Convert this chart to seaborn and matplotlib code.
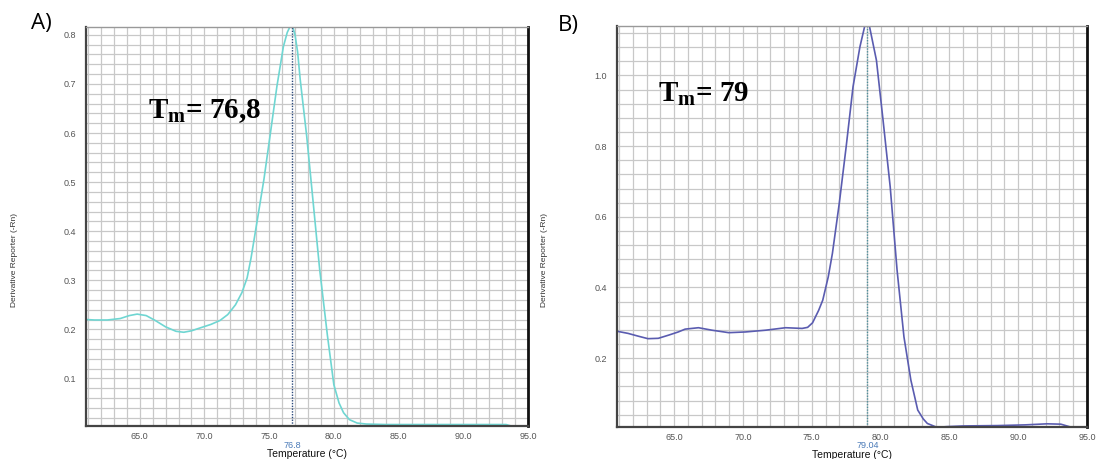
import numpy as np
import pandas as pd
import seaborn as sns
import matplotlib.pyplot as plt
from matplotlib.ticker import MultipleLocator

# Data
temp_a = [60.85, 61.5, 62.5, 63.5, 64.2, 64.8, 65.5, 66.2, 67.0, 67.8, 68.4, 69.0,
          69.8, 70.5, 71.2, 71.8, 72.4, 72.9, 73.3, 73.6, 74.1, 74.6, 75.1, 75.6,
          76.1, 76.4, 76.6, 76.8, 77.0, 77.2, 77.4, 77.9, 78.4, 78.9, 79.5, 80.0,
          80.4, 80.75, 81.2, 81.8, 82.5, 84.0, 86.0, 88.0, 90.0, 92.0, 93.3, 93.7]
deriv_a = [0.220, 0.219, 0.219, 0.222, 0.228, 0.231, 0.228, 0.218, 0.205, 0.196, 0.194, 0.197,
           0.204, 0.210, 0.218, 0.230, 0.250, 0.275, 0.305, 0.345, 0.425, 0.506, 0.600, 0.695,
           0.776, 0.805, 0.816, 0.818, 0.800, 0.765, 0.709, 0.594, 0.459, 0.323, 0.188, 0.087,
           0.050, 0.030, 0.016, 0.009, 0.007, 0.006, 0.006, 0.006, 0.006, 0.006, 0.006, 0.003]

temp_b = [60.85, 61.65, 62.4, 63.1, 63.85, 64.6, 65.3, 65.8, 66.77, 67.75, 68.97, 70.18,
          71.65, 73.1, 74.3, 74.7, 75.06, 75.5, 75.8, 76.2, 76.5, 77.0, 77.5, 78.0,
          78.5, 78.84, 79.04, 79.2, 79.7, 80.18, 80.7, 81.2, 81.7, 82.2, 82.7, 83.1,
          83.4, 84.1, 84.8, 86.0, 88.5, 90.5, 92.1, 93.1, 93.8]
deriv_b = [0.276, 0.270, 0.262, 0.255, 0.256, 0.265, 0.274, 0.282, 0.286, 0.279, 0.272, 0.274,
           0.279, 0.286, 0.284, 0.287, 0.300, 0.335, 0.364, 0.430, 0.496, 0.638, 0.798, 0.968,
           1.081, 1.138, 1.150, 1.138, 1.043, 0.874, 0.685, 0.449, 0.260, 0.138, 0.053, 0.028,
           0.015, 0.004, 0.006, 0.008, 0.009, 0.011, 0.014, 0.013, 0.005]

tm_a = 76.8
tm_b = 79.04
x_ticks = [65.0, 70.0, 75.0, 80.0, 85.0, 90.0, 95.0]
y_ticks_a = [0.1, 0.2, 0.3, 0.4, 0.5, 0.6, 0.7, 0.8]
y_ticks_b = [0.2, 0.4, 0.6, 0.8, 1.0]

sns.set_style("white")
plt.rcParams['font.family'] = ['Liberation Sans', 'DejaVu Sans']

W, H = 1097, 459
fig = plt.figure(figsize=(W / 100, H / 100), dpi=100)


def px(x, y):
    return x / W, 1 - y / H


def panel(rect, temps, vals, color, tm, tm_color, ylim, yticks, yminor):
    ax = fig.add_axes(rect)
    df = pd.DataFrame({"Temperature": temps, "Deriv": vals})
    sns.lineplot(data=df, x="Temperature", y="Deriv", ax=ax, color=color, lw=1.2)
    ax.set_xlim(60.85, 95.0)
    ax.set_ylim(*ylim)
    ax.xaxis.set_major_locator(plt.FixedLocator(x_ticks))
    ax.xaxis.set_minor_locator(MultipleLocator(1.0))
    ax.yaxis.set_major_locator(plt.FixedLocator(yticks))
    ax.yaxis.set_minor_locator(MultipleLocator(yminor))
    ax.set_xticklabels([f"{t:.1f}" for t in x_ticks])
    ax.set_yticklabels([f"{t:.1f}" for t in yticks])
    ax.grid(which="both", color="#c8c8c8", lw=0.9)
    ax.set_axisbelow(True)
    ax.tick_params(which="both", direction="out", length=3, width=0.8, color="#888888",
                   labelsize=6.5, labelcolor="#555555")
    ax.tick_params(axis="x", pad=1.5)
    ax.tick_params(axis="y", pad=4)
    ax.set_xlabel("")
    ax.set_ylabel("")
    ax.axvline(tm, color=tm_color, lw=1.0, ls=(0, (1, 1)))
    for s in ["left", "bottom"]:
        ax.spines[s].set_color("#444444")
        ax.spines[s].set_linewidth(1.6)
    ax.spines["top"].set_color("#999999")
    ax.spines["top"].set_linewidth(1.0)
    ax.spines["right"].set_color("#111111")
    ax.spines["right"].set_linewidth(2.0)
    return ax


ax_a = panel([86 / W, 1 - 426 / H, 442 / W, 399 / H], temp_a, deriv_a, "#6fd6d2",
             tm_a, "#2c4a7c", (0.003, 0.816), y_ticks_a, 0.02)
ax_b = panel([617 / W, 1 - 427 / H, 470 / W, 401 / H], temp_b, deriv_b, "#5a5cb0",
             tm_b, "#4f8f9c", (0.005, 1.14), y_ticks_b, 0.04)

# panel letters
fig.text(*px(41, 23), "A)", fontsize=16, family="Open Sans", color="black",
         ha="center", va="center")
fig.text(*px(568, 26), "B)", fontsize=16, family="Open Sans", color="black",
         ha="center", va="center")

# Tm annotations
fig.text(*px(148, 118), r"T$_\mathregular{m}$= 76,8", fontsize=21, family="Liberation Serif",
         weight="bold", color="black", ha="left", va="baseline")
fig.text(*px(658, 101), r"T$_\mathregular{m}$= 79", fontsize=21, family="Liberation Serif",
         weight="bold", color="black", ha="left", va="baseline")

# Tm values under axes
fig.text(*px(292, 446), "76.8", fontsize=6.5, color="#4a7ab8", ha="center", va="center")
fig.text(*px(868, 446), "79.04", fontsize=6.5, color="#4a7ab8", ha="center", va="center")

# axis labels
fig.text(*px(307, 454), "Temperature (°C)", fontsize=7.5, color="#111111",
         ha="center", va="center")
fig.text(*px(852, 455), "Temperature (°C)", fontsize=7.5, color="#111111",
         ha="center", va="center")
fig.text(*px(15, 260), "Derivative Reporter (-Rn)", fontsize=6, rotation=90,
         color="#333333", ha="center", va="center")
fig.text(*px(545, 260), "Derivative Reporter (-Rn)", fontsize=6, rotation=90,
         color="#333333", ha="center", va="center")

fig.savefig("out.png", dpi=100)
